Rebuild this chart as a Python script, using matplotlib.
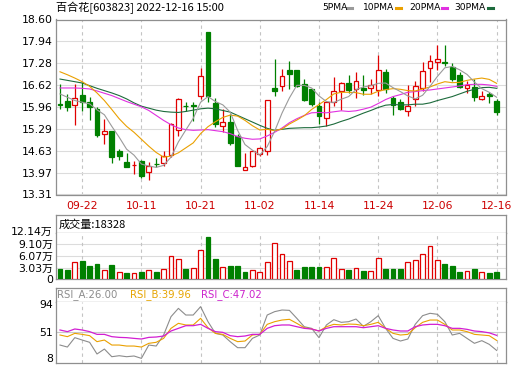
import matplotlib.pyplot as plt
import matplotlib.transforms as mtransforms
from matplotlib.lines import Line2D
import numpy as np

plt.rcParams['font.family'] = ['DejaVu Sans', 'Noto Sans CJK SC']

# ── Data ─────────────────────────────────────────────────────────
opens = [16.04, 16.14, 16.02, 16.32, 16.10, 15.90, 15.13, 15.22, 14.62, 14.28,
         14.19, 14.33, 13.98, 14.24, 14.26, 14.49, 15.27, 16.00, 16.00, 16.28,
         18.21, 16.07, 15.37, 15.49, 15.07, 14.06, 14.16, 14.54, 14.64, 16.54,
         16.60, 17.07, 17.07, 16.65, 16.50, 16.00, 15.62, 16.10, 16.45, 16.68,
         16.50, 16.54, 16.52, 16.48, 17.00, 16.22, 16.12, 15.83, 16.20, 16.52,
         17.12, 17.31, 17.33, 17.15, 16.92, 16.53, 16.55, 16.20, 16.35, 16.15]
highs = [16.65, 16.35, 16.65, 16.70, 16.25, 15.95, 15.59, 15.22, 14.69, 14.56,
         14.33, 14.35, 14.30, 14.40, 14.61, 15.46, 16.23, 16.10, 16.12, 17.12,
         18.21, 16.22, 15.90, 15.74, 15.14, 14.56, 14.64, 14.76, 16.18, 17.41,
         17.10, 17.34, 17.07, 16.80, 16.50, 16.10, 16.10, 16.85, 16.70, 16.92,
         17.00, 16.92, 16.80, 17.53, 17.10, 16.30, 16.20, 16.62, 16.75, 17.33,
         17.53, 17.83, 17.83, 17.27, 17.00, 16.75, 16.80, 16.45, 16.40, 16.20]
lows = [15.90, 15.82, 15.41, 15.82, 15.56, 15.04, 14.84, 14.26, 14.34, 14.13,
        13.93, 13.80, 13.75, 14.13, 14.16, 14.45, 15.09, 15.82, 15.54, 16.20,
        16.10, 15.34, 15.21, 14.81, 14.16, 14.06, 14.13, 14.46, 14.49, 16.28,
        16.45, 16.50, 16.55, 16.15, 16.00, 15.44, 15.37, 15.98, 15.85, 16.38,
        16.22, 16.32, 16.35, 16.30, 16.38, 15.70, 15.85, 15.67, 15.98, 16.45,
        16.70, 17.08, 17.20, 16.75, 16.52, 16.38, 16.15, 16.18, 16.08, 15.70]
closes = [16.02, 15.95, 16.22, 16.12, 15.95, 15.11, 15.22, 14.45, 14.47, 14.15,
          14.20, 13.88, 14.18, 14.22, 14.46, 15.44, 16.20, 15.98, 15.99, 16.90,
          16.30, 15.44, 15.49, 14.87, 14.16, 14.13, 14.62, 14.72, 16.18, 16.45,
          16.88, 16.94, 16.60, 16.18, 16.05, 15.69, 16.10, 16.43, 16.68, 16.47,
          16.73, 16.47, 16.63, 17.07, 16.50, 16.02, 15.88, 16.00, 16.60, 17.05,
          17.36, 17.41, 17.30, 16.80, 16.55, 16.63, 16.25, 16.30, 16.28, 15.80]

ma5 = [16.35, 16.25, 16.15, 16.10, 16.05, 15.87, 15.72, 15.37, 15.04, 14.68,
       14.50, 14.23, 14.17, 14.13, 14.19, 14.44, 14.90, 15.26, 15.61, 16.10,
       16.27, 16.12, 16.02, 15.80, 15.25, 14.82, 14.65, 14.50, 14.76, 15.22,
       15.77, 16.23, 16.61, 16.61, 16.53, 16.29, 16.12, 16.09, 16.19, 16.27,
       16.48, 16.56, 16.60, 16.67, 16.68, 16.54, 16.42, 16.29, 16.20, 16.31,
       16.58, 16.88, 17.14, 17.18, 17.08, 16.94, 16.71, 16.51, 16.40, 16.25]
ma10 = [17.02, 16.93, 16.83, 16.72, 16.58, 16.38, 16.15, 15.88, 15.60, 15.37,
        15.19, 14.98, 14.77, 14.58, 14.44, 14.47, 14.57, 14.72, 14.87, 15.15,
        15.36, 15.51, 15.64, 15.71, 15.68, 15.55, 15.39, 15.26, 15.28, 15.24,
        15.29, 15.44, 15.56, 15.69, 15.88, 16.03, 16.18, 16.35, 16.40, 16.40,
        16.39, 16.34, 16.34, 16.43, 16.48, 16.51, 16.49, 16.45, 16.44, 16.50,
        16.56, 16.65, 16.72, 16.69, 16.70, 16.76, 16.80, 16.83, 16.79, 16.67]
ma20 = [16.53, 16.53, 16.53, 16.52, 16.50, 16.44, 16.37, 16.30, 16.21, 16.12,
        16.04, 15.96, 15.85, 15.70, 15.55, 15.42, 15.32, 15.27, 15.25, 15.26,
        15.27, 15.24, 15.21, 15.15, 15.06, 15.01, 14.98, 14.99, 15.08, 15.19,
        15.32, 15.48, 15.60, 15.70, 15.78, 15.79, 15.78, 15.81, 15.84, 15.82,
        15.84, 15.89, 15.95, 16.06, 16.18, 16.27, 16.33, 16.40, 16.42, 16.45,
        16.47, 16.50, 16.53, 16.56, 16.59, 16.63, 16.64, 16.64, 16.62, 16.58]
ma30 = [16.80, 16.76, 16.72, 16.68, 16.60, 16.52, 16.45, 16.38, 16.30, 16.20,
        16.08, 15.98, 15.92, 15.86, 15.82, 15.80, 15.79, 15.82, 15.86, 15.90,
        15.92, 15.90, 15.85, 15.80, 15.70, 15.60, 15.50, 15.40, 15.31, 15.25,
        15.28, 15.31, 15.32, 15.33, 15.33, 15.35, 15.38, 15.44, 15.52, 15.59,
        15.68, 15.77, 15.85, 15.94, 16.01, 16.03, 16.02, 16.02, 16.04, 16.04,
        16.08, 16.15, 16.21, 16.27, 16.35, 16.43, 16.49, 16.54, 16.55, 16.52]

# volume in 万 shares, and whether the bar is drawn as "up" (red)
volume = [2.77, 2.50, 4.51, 4.77, 3.46, 3.99, 2.42, 3.73, 1.82, 1.64,
          1.64, 1.90, 2.36, 1.90, 2.62, 6.00, 5.22, 2.68, 2.87, 7.55,
          11.10, 5.29, 3.13, 3.46, 3.46, 1.90, 2.36, 1.90, 4.43, 9.38,
          6.51, 4.69, 2.42, 3.13, 3.13, 3.13, 3.13, 5.47, 2.61, 2.42,
          2.87, 2.16, 2.16, 5.47, 2.68, 2.68, 2.68, 4.43, 4.95, 6.59,
          8.67, 4.95, 3.99, 3.46, 1.90, 2.16, 2.68, 1.90, 1.64, 1.83]
vol_up = [0, 0, 1, 0, 0, 0, 1, 0, 1, 0,
          1, 0, 1, 0, 1, 1, 1, 0, 1, 1,
          0, 0, 1, 0, 0, 0, 1, 1, 1, 1,
          1, 1, 0, 0, 0, 0, 1, 1, 1, 0,
          1, 0, 1, 1, 0, 0, 0, 1, 1, 1,
          1, 1, 0, 0, 0, 1, 0, 1, 0, 0]

rsi_a = [33.5, 30.7, 43.8, 40.5, 37.3, 21.0, 27.9, 17.2, 18.6, 17.2,
         18.2, 14.9, 33.5, 32.1, 47.5, 73.1, 84.7, 75.4, 75.4, 87.1,
         66.1, 49.8, 47.5, 38.2, 29.8, 29.8, 42.8, 47.5, 75.4, 80.1,
         82.4, 81.9, 70.8, 59.1, 56.8, 43.8, 61.5, 68.9, 65.2, 66.1,
         69.8, 59.6, 66.1, 74.5, 56.8, 42.8, 39.1, 41.9, 62.4, 74.5,
         77.8, 76.4, 66.1, 47.5, 49.8, 42.8, 35.9, 39.6, 34.5, 26.00]
rsi_b = [47.5, 45.2, 49.8, 48.4, 46.6, 38.2, 40.5, 33.5, 33.5, 32.1,
         32.1, 30.7, 35.9, 37.3, 42.8, 56.8, 63.8, 61.5, 61.5, 70.8,
         57.7, 49.8, 48.4, 42.8, 38.2, 39.1, 47.5, 48.4, 62.4, 66.1,
         68.4, 69.4, 63.8, 57.7, 55.9, 53.1, 59.1, 62.4, 61.5, 62.8,
         62.4, 60.5, 62.4, 65.2, 56.8, 49.8, 47.5, 48.4, 57.7, 65.2,
         68.4, 68.4, 62.4, 54.5, 54.5, 52.2, 48.4, 47.5, 46.6, 39.96]
rsi_c = [54.5, 52.2, 55.9, 54.5, 52.2, 48.4, 48.4, 45.2, 44.2, 43.8,
         42.8, 41.9, 44.2, 44.7, 46.1, 53.1, 56.8, 60.5, 60.5, 62.4,
         56.8, 52.2, 51.2, 46.6, 45.2, 46.1, 48.4, 48.4, 56.8, 60.5,
         61.5, 61.5, 59.1, 56.8, 55.9, 53.1, 56.8, 59.1, 59.1, 59.1,
         59.1, 57.7, 59.1, 60.5, 56.8, 54.5, 53.1, 53.1, 59.1, 61.5,
         62.4, 62.4, 60.5, 56.8, 56.8, 55.4, 53.1, 52.2, 50.5, 47.02]

date_idx = [3, 11, 19, 27, 35, 43, 51, 59]
date_labels = ["09-22", "10-11", "10-21", "11-02", "11-14", "11-24", "12-06", "12-16"]
price_ticks = [13.31, 13.97, 14.63, 15.29, 15.96, 16.62, 17.28, 17.94, 18.60]
vol_ticks = [0, 3.035, 6.07, 9.105, 12.14]
vol_tick_labels = ["0", "3.03万", "6.07万", "9.10万", "12.14万"]
rsi_ticks = [8, 51, 94]

# ── Palette ──────────────────────────────────────────────────────
RED = "#e00000"
GREEN = "#008000"
C_MA5 = "#9a9a9a"
C_MA10 = "#eaa000"
C_MA20 = "#e030e0"
C_MA30 = "#1d6b3c"
C_GRID = "#dcdcdc"
C_VGRID = "#c4c4c4"
C_SPINE = "#8f8f8f"
DATE_RED = "#cc0000"

W, H = 520, 365
fig = plt.figure(figsize=(W / 100, H / 100), dpi=100, facecolor="white")


def px_axes(left, top, right, bottom):
    """Axes placed by pixel box (origin top-left)."""
    ax = fig.add_axes([left / W, 1 - bottom / H, (right - left) / W, (bottom - top) / H])
    for s in ax.spines.values():
        s.set_color(C_SPINE)
        s.set_linewidth(0.9)
    ax.tick_params(length=0, labelsize=7.8, pad=2.2, colors="black")
    return ax


def shift_labels(ax, offsets):
    for lab, dy in zip(ax.get_yticklabels(), offsets):
        lab.set_transform(lab.get_transform() +
                          mtransforms.ScaledTranslation(0, dy / 100, fig.dpi_scale_trans))


n = len(closes)
x = np.arange(n)
XLIM = (-0.54, 60.2)
BW = 0.66

# ── Price panel ──────────────────────────────────────────────────
ax_p = px_axes(56, 19.5, 505.5, 194.5)
ax_p.set_xlim(*XLIM)
ax_p.set_ylim(13.31, 18.60)
ax_p.set_yticks(price_ticks)
ax_p.set_yticklabels([f"{t:.2f}" for t in price_ticks])
ax_p.grid(axis="y", color=C_GRID, lw=0.8, zorder=0)
for d in date_idx:
    ax_p.axvline(d, color=C_VGRID, lw=0.8, ls=(0, (3, 3)), zorder=0)
ax_p.set_xticks(date_idx)
ax_p.set_xticklabels(date_labels, color=DATE_RED)
ax_p.tick_params(axis="x", pad=4.6)

o = np.array(opens)
c = np.array(closes)
up = c >= o
cols = np.where(up, RED, GREEN)
ax_p.vlines(x, lows, highs, colors=cols, lw=0.9, zorder=3)
body_bottom = np.minimum(o, c)
body_h = np.maximum(np.abs(c - o), 0.015)
ax_p.bar(x, body_h, bottom=body_bottom, width=BW,
         color=np.where(up, "white", GREEN), edgecolor=cols, lw=0.9, zorder=4)

for ma, col in [(ma30, C_MA30), (ma20, C_MA20), (ma10, C_MA10), (ma5, C_MA5)]:
    ax_p.plot(x, ma, color=col, lw=0.8, zorder=5)

# title and legend
fig.text(56 / W, 1 - 7.5 / H, "百合花[603823] 2022-12-16 15:00",
         family=["Noto Sans CJK SC", "DejaVu Sans"], fontsize=8,
         ha="left", va="center")
legend = [("5PMA", 322, C_MA5, 347), ("10PMA", 363, C_MA10, 396),
          ("20PMA", 409, C_MA20, 442), ("30PMA", 454, C_MA30, 488)]
for name, tx, col, lx in legend:
    fig.text(tx / W, 1 - 7.5 / H, name, fontsize=6.6, ha="left", va="center")
    fig.add_artist(Line2D([lx / W, (lx + 5) / W], [1 - 7.5 / H, 1 - 7.5 / H],
                          color=col, lw=2.2, transform=fig.transFigure))

# ── Volume panel ─────────────────────────────────────────────────
ax_vh = px_axes(56, 215, 505.5, 232.7)
ax_vh.set_xticks([])
ax_vh.set_yticks([])
ax_vh.text(0.005, 0.45, "成交量:18328", transform=ax_vh.transAxes,
           family=["Noto Sans CJK SC", "DejaVu Sans"], fontsize=8,
           ha="left", va="center")

ax_v = px_axes(56, 232.7, 505.5, 279.3)
ax_v.set_xlim(*XLIM)
ax_v.set_ylim(0, 12.14)
ax_v.set_xticks([])
ax_v.set_yticks(vol_ticks)
ax_v.set_yticklabels(vol_tick_labels)
ax_v.spines["top"].set_visible(False)
for t in vol_ticks[1:4]:
    ax_v.axhline(t, color=C_GRID, lw=0.8, zorder=0)
for d in date_idx:
    ax_v.axvline(d, color=C_VGRID, lw=0.8, ls=(0, (3, 3)), zorder=0)
vu = np.array(vol_up).astype(bool)
ax_v.bar(x, volume, width=BW, color=np.where(vu, "white", GREEN),
         edgecolor=np.where(vu, RED, GREEN), lw=0.9, zorder=3)
shift_labels(ax_v, [0, 0, 0, 0, 2])

# ── RSI panel ────────────────────────────────────────────────────
ax_rh = px_axes(56, 288.3, 505.5, 301.7)
ax_rh.set_xticks([])
ax_rh.set_yticks([])
for label, tx, col in [("RSI_A:26.00", 57.5, "#8c8c8c"),
                       ("RSI_B:39.96", 130, "#e6a400"),
                       ("RSI_C:47.02", 201.5, "#cc22cc")]:
    fig.text(tx / W, 1 - 295 / H, label, color=col, fontsize=7.3,
             ha="left", va="center")

ax_r = px_axes(56, 301.7, 505.5, 363.3)
ax_r.set_xlim(*XLIM)
ax_r.set_ylim(8, 94)
ax_r.set_xticks([])
ax_r.set_yticks(rsi_ticks)
ax_r.set_yticklabels([str(t) for t in rsi_ticks])
ax_r.spines["top"].set_visible(False)
ax_r.axhline(51, color="#c8c8c8", lw=0.8, zorder=0)
for d in date_idx:
    ax_r.axvline(d, color=C_VGRID, lw=0.8, ls=(0, (3, 3)), zorder=0)
ax_r.plot(x, rsi_a, color="#8c8c8c", lw=0.8, zorder=3)
ax_r.plot(x, rsi_b, color="#eaa000", lw=0.8, zorder=4)
ax_r.plot(x, rsi_c, color="#d21ed2", lw=0.9, zorder=5)
shift_labels(ax_r, [5.5, 0, -2.5])

fig.savefig("out.png", dpi=100, facecolor="white")
